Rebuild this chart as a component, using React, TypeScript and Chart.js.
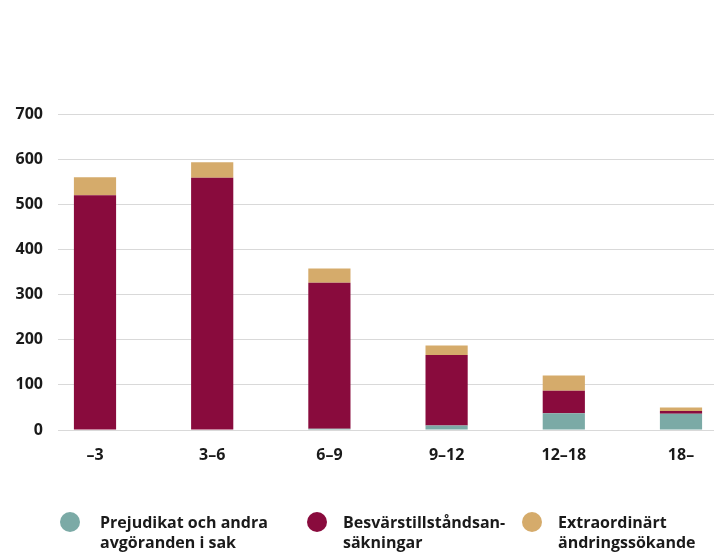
import React, { useEffect, useRef } from "react";
import { Chart, registerables } from "chart.js";

Chart.register(...registerables);

const categories = ["–3", "3–6", "6–9", "9–12", "12–18", "18–"];
const prejudikat = [1, 0, 3, 10, 37, 36];
const besvar = [519, 559, 323, 156, 50, 6];
const extra = [40, 34, 32, 21, 34, 8];
const yMin = 0;
const yMax = 700;
const yStep = 100;

const seriesNames = [
  "Prejudikat och andra avgöranden i sak",
  "Besvärstillståndsansäkningar",
  "Extraordinärt ändringssökande",
];
const legendLines = [
  ["Prejudikat och andra", "avgöranden i sak"],
  ["Besvärstillståndsan-", "säkningar"],
  ["Extraordinärt", "ändringssökande"],
];
const colors = ["#7baaa6", "#890b3d", "#d5ab6b"];

const FONT = "'Open Sans', Lato, sans-serif";
const TEXT = "#1a1a1a";
const GRID = "#d9d9d9";

const legendPos = [
  { cx: 70, tx: 100 },
  { cx: 317, tx: 343 },
  { cx: 532, tx: 558 },
];

export default function App() {
  const ref = useRef<HTMLCanvasElement | null>(null);

  useEffect(() => {
    document.body.style.margin = "0";
    if (!ref.current) return;
    const chart = new Chart(ref.current, {
      type: "bar",
      data: {
        labels: categories,
        datasets: [
          { label: seriesNames[0], data: prejudikat, backgroundColor: colors[0] },
          { label: seriesNames[1], data: besvar, backgroundColor: colors[1] },
          { label: seriesNames[2], data: extra, backgroundColor: colors[2] },
        ],
      },
      options: {
        responsive: false,
        animation: false,
        layout: { padding: { top: 114, left: 0, right: 0, bottom: 0 } },
        datasets: {
          bar: {
            categoryPercentage: 0.36,
            barPercentage: 1,
            borderWidth: 0,
            clip: false as any,
          },
        },
        plugins: {
          legend: { display: false },
          tooltip: { enabled: false },
          title: { display: false },
        },
        scales: {
          x: {
            type: "category",
            stacked: true,
            offset: false,
            grid: { display: false, drawTicks: false },
            border: { display: false },
            ticks: {
              padding: 16,
              color: TEXT,
              font: { family: FONT, size: 16, weight: "bold" },
              maxRotation: 0,
              autoSkip: false,
            },
            afterFit: (s: any) => {
              s.height = 122;
            },
          },
          y: {
            type: "linear",
            stacked: true,
            position: "left",
            min: yMin,
            max: yMax,
            ticks: {
              stepSize: yStep,
              padding: 15,
              color: TEXT,
              font: { family: FONT, size: 16, weight: "bold" },
            },
            grid: { color: GRID, lineWidth: 1, tickLength: 37, tickColor: GRID },
            border: { display: false },
            afterFit: (s: any) => {
              s.width = 95;
            },
          },
          yRight: {
            type: "linear",
            position: "right",
            min: yMin,
            max: yMax,
            ticks: { stepSize: yStep, display: false },
            grid: {
              drawOnChartArea: false,
              color: GRID,
              lineWidth: 1,
              tickLength: 33,
              tickColor: GRID,
            },
            border: { display: false },
            afterFit: (s: any) => {
              s.width = 33;
            },
          },
        },
      } as any,
    });
    return () => chart.destroy();
  }, []);

  return (
    <div style={{ position: "relative", width: 714, height: 552, overflow: "hidden", background: "#fff" }}>
      <canvas ref={ref} width={714} height={552} style={{ display: "block", position: "absolute", left: 0, top: 0 }} />
      {legendLines.map((lines, i) => (
        <React.Fragment key={i}>
          <div
            style={{
              position: "absolute",
              left: legendPos[i].cx - 10,
              top: 512,
              width: 20,
              height: 20,
              borderRadius: "50%",
              background: colors[i],
            }}
          />
          <div
            style={{
              position: "absolute",
              left: legendPos[i].tx,
              top: 512,
              fontFamily: FONT,
              fontWeight: 700,
              fontSize: 16,
              lineHeight: "20px",
              color: TEXT,
              whiteSpace: "nowrap",
            }}
          >
            {lines.map((l, j) => (
              <div key={j}>{l}</div>
            ))}
          </div>
        </React.Fragment>
      ))}
    </div>
  );
}
